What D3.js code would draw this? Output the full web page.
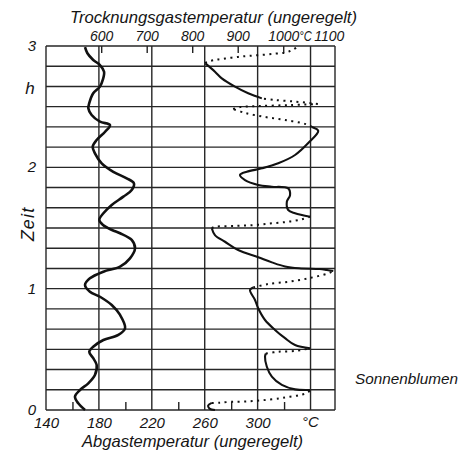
<!DOCTYPE html>
<html>
<head>
<meta charset="utf-8">
<script src="https://cdn.jsdelivr.net/npm/d3@7"></script>
<style>
  body { margin: 0; background: #fff; }
  text { font-family: "Liberation Sans", "DejaVu Sans", sans-serif; font-style: italic; fill: #151515; }
  .grid line { stroke: #262626; stroke-width: 1.4; }
  .tick line { stroke: #222; stroke-width: 1.4; }
</style>
</head>
<body>
<svg width="464" height="456"></svg>
<script>
// Zeit in Minuten (0..180 = 0..3 h)
var timeTicks = [0, 60, 120, 180];
var timeLabels = ["0", "1", "2", "3"];
var abgasTicks = [140, 180, 220, 260, 300];
var abgasMinor = [160, 200, 240, 280, 320];
var gasTicks = [600, 700, 800, 900, 1000, 1100];

// Abgastemperatur (unten), Kurve links
var abgasZeit = [0, 3.3, 6.6, 9.9, 13.2, 17.3, 22.3, 25.6, 28.8, 31.3, 34.6, 37.1, 40.4, 47.0, 51.9, 56.0,
  58.5, 61.8, 65.1, 68.4, 70.9, 75.0, 80.0, 84.1, 87.4, 89.0, 91.5, 94.0, 97.3, 101.4, 105.5, 108.8,
  112.1, 114.6, 117.8, 122.0, 126.9, 130.2, 133.5, 137.6, 140.9, 142.6, 145.9, 149.2, 151.7, 156.6,
  159.9, 163.2, 167.3, 170.6, 173.1, 176.4, 179.4];
var abgasTemp = [169.5, 164.4, 161.9, 165.7, 172.0, 177.0, 178.3, 175.7, 172.7, 175.7, 183.4, 194.7, 199.8, 196.0, 189.7, 180.8,
  173.2, 169.5, 173.2, 183.4, 196.0, 203.5, 207.3, 204.8, 196.0, 189.9, 183.1, 180.3, 183.4, 189.7, 198.5, 204.8,
  206.5, 201.0, 190.9, 182.1, 177.0, 175.3, 178.3, 184.7, 188.4, 180.8, 174.5, 172.0, 172.7, 175.7,
  180.8, 182.9, 183.9, 180.8, 175.7, 171.3, 169.5];

// Trocknungsgastemperatur (oben), Kurve rechts: [Minuten, °C]
var gasSolid = [
  [[0, 850], [0.7, 838], [2.2, 835], [3.5, 843]],
  [[9.9, 1059], [10.2, 1026], [12.4, 997], [16.5, 975], [21.4, 964], [26.4, 960], [27.9, 962]],
  [[30.5, 1059], [32.1, 1026], [35.5, 1004], [39.6, 982], [44.5, 960], [50.3, 945], [54.4, 938], [59.3, 927], [60.6, 934]],
  [[68.7, 1110], [69.2, 1096], [69.7, 1080], [70.1, 1035], [71.0, 1004], [73.0, 975], [75.5, 945], [79.1, 901], [83.2, 872], [86.5, 850], [89.9, 843]],
  [[95.6, 1059], [97.3, 1026], [98.9, 1011], [103.0, 1008], [106.3, 1015], [109.6, 1011], [110.4, 975], [111.3, 945],
   [113.7, 916], [116.2, 905], [117.8, 920], [119.5, 953], [122.0, 989], [126.1, 1026], [132.0, 1055], [138.0, 1077], [140.0, 1063]],
  [[154.1, 953], [156.6, 923], [159.9, 894], [164.0, 865], [167.3, 850], [171.4, 829]]
];
var gasDotted = [
  [[3.5, 843], [3.6, 858], [4.0, 883], [4.2, 916], [4.8, 953], [5.8, 993], [6.6, 1015], [7.4, 1037], [8.6, 1054], [9.9, 1059]],
  [[27.9, 962], [28.8, 989], [29.2, 1026], [30.5, 1059]],
  [[60.6, 934], [62.3, 967], [63.4, 1011], [65.1, 1055], [67.6, 1099], [68.7, 1110]],
  [[89.9, 843], [90.6, 850], [91.0, 894], [91.5, 938], [92.3, 975], [93.1, 1011], [94.3, 1041], [95.6, 1059]],
  [[140.0, 1063], [141.5, 1048], [143.4, 1004], [144.9, 960], [146.9, 916], [148.8, 890]],
  [[148.8, 890], [149.8, 905], [150.3, 949], [150.8, 1015], [151.3, 1076]],
  [[151.3, 1076], [151.7, 1063], [152.5, 1026], [153.3, 982], [154.1, 953]],
  [[171.4, 829], [172.1, 832], [173.1, 850], [173.8, 872], [174.6, 901], [175.1, 923], [175.6, 953], [176.2, 982], [176.7, 1004], [177.9, 1019], [179.8, 1033]]
];

var svg = d3.select("svg");
var plotL = 46, plotR = 335, plotT = 46, plotB = 410;

var x = d3.scaleLinear().domain([140, 358.5]).range([plotL, plotR]);      // Abgas
var x2 = d3.scaleLinear().domain([478.7, 1113.8]).range([plotL, plotR]);  // Trocknungsgas
var y = d3.scaleLinear().domain([0, 180]).range([plotB, plotT]);

// grid
var grid = svg.append("g").attr("class", "grid");
grid.selectAll("line.h").data(d3.range(0, 181, 10)).enter().append("line")
  .attr("class", "h")
  .attr("x1", plotL).attr("x2", plotR)
  .attr("y1", function(d) { return y(d); }).attr("y2", function(d) { return y(d); });
grid.selectAll("line.v").data([140, 180, 220, 260, 300, 340]).enter().append("line")
  .attr("class", "v")
  .attr("x1", function(d) { return x(d); }).attr("x2", function(d) { return x(d); })
  .attr("y1", plotT).attr("y2", plotB);
grid.append("line").attr("x1", plotR).attr("x2", plotR).attr("y1", plotT).attr("y2", plotB);

// top axis (Trocknungsgas)
var topAxis = svg.append("g")
  .attr("transform", "translate(0," + plotT + ")")
  .call(d3.axisTop(x2).tickValues(gasTicks).tickSize(-7).tickPadding(5)
    .tickFormat(function(d) { return d; }));
topAxis.select(".domain").remove();
topAxis.selectAll(".tick").filter(function(d) { return d === 1100; }).select("line").remove();
topAxis.selectAll("text").attr("font-size", 14).attr("fill", "#151515");
svg.append("text").attr("x", x2(1000) + 16).attr("y", plotT - 5)
  .attr("font-size", 14).attr("textLength", 12.5).attr("lengthAdjust", "spacingAndGlyphs")
  .text("°C");

// bottom axis (Abgas)
var botAxis = svg.append("g")
  .attr("transform", "translate(0," + plotB + ")")
  .call(d3.axisBottom(x).tickValues(abgasMinor).tickSize(-8).tickFormat(""));
botAxis.select(".domain").remove();
var botLabels = svg.append("g")
  .attr("transform", "translate(0," + plotB + ")")
  .call(d3.axisBottom(x).tickValues(abgasTicks).tickSize(0).tickPadding(7));
botLabels.select(".domain").remove();
botLabels.selectAll("text").attr("font-size", 15).attr("fill", "#151515");
svg.append("text").attr("x", x(340)).attr("y", 427).attr("text-anchor", "middle")
  .attr("font-size", 15).text("°C");

// y labels
svg.selectAll("text.ylab").data(timeTicks).enter().append("text")
  .attr("class", "ylab")
  .attr("x", 32).attr("y", function(d) { return y(d) + 5; })
  .attr("text-anchor", "middle").attr("font-size", 15)
  .text(function(d, i) { return timeLabels[i]; });
svg.append("text").attr("x", 30).attr("y", y(159) + 6).attr("text-anchor", "middle")
  .attr("font-size", 17).text("h");
svg.append("text")
  .attr("transform", "translate(34," + y(92) + ") rotate(-90)")
  .attr("text-anchor", "middle").attr("font-size", 18)
  .attr("letter-spacing", 1.2).text("Zeit");

// titles
svg.append("text").attr("x", 70).attr("y", 23).attr("font-size", 17)
  .attr("textLength", 287).attr("lengthAdjust", "spacingAndGlyphs")
  .text("Trocknungsgastemperatur (ungeregelt)");
svg.append("text").attr("x", 82).attr("y", 447).attr("font-size", 17)
  .attr("textLength", 221).attr("lengthAdjust", "spacingAndGlyphs")
  .text("Abgastemperatur (ungeregelt)");
svg.append("text").attr("x", 355).attr("y", 384).attr("font-size", 15)
  .attr("textLength", 103).attr("lengthAdjust", "spacingAndGlyphs")
  .text("Sonnenblumen");

// curves
var abgasLine = d3.line()
  .curve(d3.curveCatmullRom.alpha(0.5))
  .x(function(d, i) { return x(abgasTemp[i]); })
  .y(function(d) { return y(d); });
svg.append("path").datum(abgasZeit)
  .attr("d", abgasLine)
  .attr("fill", "none").attr("stroke", "#111").attr("stroke-width", 2.6)
  .attr("stroke-linejoin", "round");

var gasLine = d3.line()
  .curve(d3.curveCatmullRom.alpha(0.5))
  .x(function(d) { return x2(d[1]); })
  .y(function(d) { return y(d[0]); });
svg.selectAll("path.solid").data(gasSolid).enter().append("path")
  .attr("class", "solid")
  .attr("d", gasLine)
  .attr("fill", "none").attr("stroke", "#111").attr("stroke-width", 2.1)
  .attr("stroke-linejoin", "round");
svg.selectAll("path.dotted").data(gasDotted).enter().append("path")
  .attr("class", "dotted")
  .attr("d", gasLine)
  .attr("fill", "none").attr("stroke", "#111").attr("stroke-width", 2)
  .attr("stroke-dasharray", "2,4.5");
</script>
</body>
</html>
